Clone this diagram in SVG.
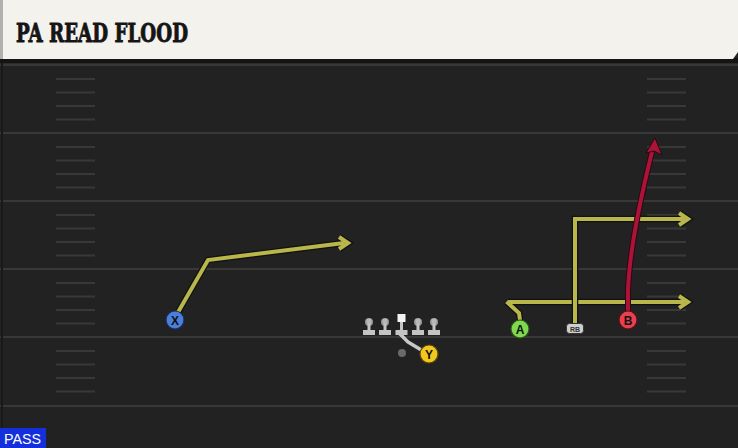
<svg xmlns="http://www.w3.org/2000/svg" width="738" height="448" viewBox="0 0 738 448">
<defs>
<style>
.yl{stroke:#383838;stroke-width:2;fill:none}
.hm{stroke:#383838;stroke-width:1.8;fill:none}
.rt-o{stroke:#111;stroke-width:6.5;fill:none;stroke-linejoin:miter;stroke-linecap:butt}
.rt{stroke:#b9b64c;stroke-width:4;fill:none;stroke-linejoin:miter;stroke-linecap:butt}
.red-o{stroke:#2a0a10;stroke-width:6;fill:none;stroke-linecap:butt}
.red{stroke:#ad1238;stroke-width:4;fill:none;stroke-linecap:butt}
.gry{stroke:#c8c8c8;stroke-width:3.5;fill:none;stroke-linejoin:round}
.lbl{font-family:"Liberation Sans",Arial,sans-serif;font-weight:bold;font-size:12px;fill:#111;text-anchor:middle}
.ol{fill:#c4c4c4}
.olh{fill:#9a9a9a}
</style>
</defs>
<!-- field -->
<rect x="0" y="0" width="738" height="448" fill="#222222"/>
<rect x="0" y="58" width="738" height="5" fill="#141414"/>
<rect x="0" y="63" width="738" height="2" fill="#2b2b2b"/>
<g id="field-lines">
<line class="yl" x1="0" y1="65" x2="738" y2="65"/>
<line class="yl" x1="0" y1="133" x2="738" y2="133"/>
<line class="yl" x1="0" y1="201" x2="738" y2="201"/>
<line class="yl" x1="0" y1="269" x2="738" y2="269"/>
<line class="yl" x1="0" y1="337" x2="738" y2="337"/>
<line class="yl" x1="0" y1="406" x2="738" y2="406"/>
<path class="hm" d="M56,79H95M56,92.5H95M56,106H95M56,119.5H95M56,147H95M56,160.5H95M56,174H95M56,187.5H95M56,215H95M56,228.5H95M56,242H95M56,255.5H95M56,283H95M56,296.5H95M56,310H95M56,323.5H95M56,351H95M56,364.5H95M56,378H95M56,391.5H95"/>
<path class="hm" d="M647,79H686M647,92.5H686M647,106H686M647,119.5H686M647,147H686M647,160.5H686M647,174H686M647,187.5H686M647,215H686M647,228.5H686M647,242H686M647,255.5H686M647,283H686M647,296.5H686M647,310H686M647,323.5H686M647,351H686M647,364.5H686M647,378H686M647,391.5H686"/>
<line x1="2" y1="63" x2="2" y2="448" stroke="#1a1a1a" stroke-width="2"/>
</g>
<!-- header -->
<g id="header">
<path d="M0,0H738V52L733,59H0Z" fill="#f4f2ec"/>
<rect x="0" y="0" width="3" height="59" fill="#b0b0ae"/>
<text x="16" y="42" font-family="'DejaVu Serif','Liberation Serif',serif" font-weight="bold" font-size="26" fill="#151515" stroke="#151515" stroke-width="0.9" textLength="172" lengthAdjust="spacingAndGlyphs">PA READ FLOOD</text>
</g>
<!-- connectors -->
<g id="connectors">
<g id="route-X">
<path class="rt-o" d="M177,314L208,260L344,243"/>
<path class="rt-o" d="M339,237L348,243L339,249"/>
<path class="rt" d="M177,314L208,260L344,243"/>
<path class="rt" d="M339,237L348,243L339,249"/>
</g>
<g id="route-A">
<path class="rt-o" d="M520,320L519,313L508,303V301.5L508,302H684"/>
<path class="rt-o" d="M679,296L688,302L679,308"/>
<path class="rt" d="M520,320L519,313L508,303L509,302H684"/>
<path class="rt" d="M679,296L688,302L679,308"/>
</g>
<g id="route-RB">
<path class="rt-o" d="M575,323V219H684"/>
<path class="rt-o" d="M679,213L688,219L679,225"/>
<path class="rt" d="M575,323V219H684"/>
<path class="rt" d="M679,213L688,219L679,225"/>
</g>
<g id="route-B">
<path class="red-o" d="M628,312V290Q630,240 652,152"/>
<path class="red" d="M628,312V290Q630,240 652,152"/>
<path d="M655,138L662,155L654,151L646,153Z" fill="#ad1238" stroke="#2a0a10" stroke-width="1"/>
</g>
<g id="route-Y">
<path class="gry" d="M423,351L408,342L397,331"/>
</g>
</g>
<!-- linemen -->
<g id="LT"><circle class="olh" cx="369" cy="322" r="4"/><rect class="ol" x="367.5" y="323" width="3" height="8"/><rect class="ol" x="363" y="330" width="12" height="5"/><circle cx="369" cy="321" r="2.5" fill="#b8b8b8"/></g>
<g id="LG"><circle class="olh" cx="385" cy="322" r="4"/><rect class="ol" x="383.5" y="323" width="3" height="8"/><rect class="ol" x="379" y="330" width="12" height="5"/><circle cx="385" cy="321" r="2.5" fill="#b8b8b8"/></g>
<g id="C"><rect x="397.5" y="314" width="8" height="8" fill="#f4f4f4"/><rect class="ol" x="400" y="322" width="3" height="9"/><rect class="ol" x="395.5" y="330" width="12" height="5"/></g>
<g id="RG"><circle class="olh" cx="418" cy="322" r="4"/><rect class="ol" x="416.5" y="323" width="3" height="8"/><rect class="ol" x="412" y="330" width="12" height="5"/><circle cx="418" cy="321" r="2.5" fill="#b8b8b8"/></g>
<g id="RT"><circle class="olh" cx="434" cy="322" r="4"/><rect class="ol" x="432.5" y="323" width="3" height="8"/><rect class="ol" x="428" y="330" width="12" height="5"/><circle cx="434" cy="321" r="2.5" fill="#b8b8b8"/></g>
<g id="QB"><circle cx="402" cy="353" r="4" fill="#6a6a6a"/></g>
<!-- skill players -->
<g id="X"><circle cx="175" cy="320" r="9" fill="#4a7fdc" stroke="#1c2f5a" stroke-width="1.2"/><text class="lbl" x="175" y="324.5">X</text></g>
<g id="Y"><circle cx="429" cy="354" r="9" fill="#f2c81e" stroke="#5a4a08" stroke-width="1.2"/><text class="lbl" x="429" y="358.5">Y</text></g>
<g id="A"><circle cx="520" cy="329" r="9" fill="#7fd94f" stroke="#2a5a14" stroke-width="1.2"/><text class="lbl" x="520" y="333.5">A</text></g>
<g id="RB"><rect x="566.5" y="323.5" width="17" height="10" rx="3" fill="#cfcfcf" stroke="#333" stroke-width="1"/><text x="575" y="331.5" font-family="'Liberation Sans',Arial,sans-serif" font-weight="bold" font-size="7" fill="#333" text-anchor="middle">RB</text></g>
<g id="B"><circle cx="628" cy="320" r="9" fill="#e8404e" stroke="#5a1018" stroke-width="1.2"/><text class="lbl" x="628" y="324.5">B</text></g>
<!-- pass tag -->
<g id="pass">
<rect x="0" y="428" width="46" height="20" fill="#1430dc"/>
<text x="4" y="444" font-family="'Liberation Sans',Arial,sans-serif" font-size="15" fill="#ffffff" textLength="37" lengthAdjust="spacingAndGlyphs">PASS</text>
</g>
</svg>
